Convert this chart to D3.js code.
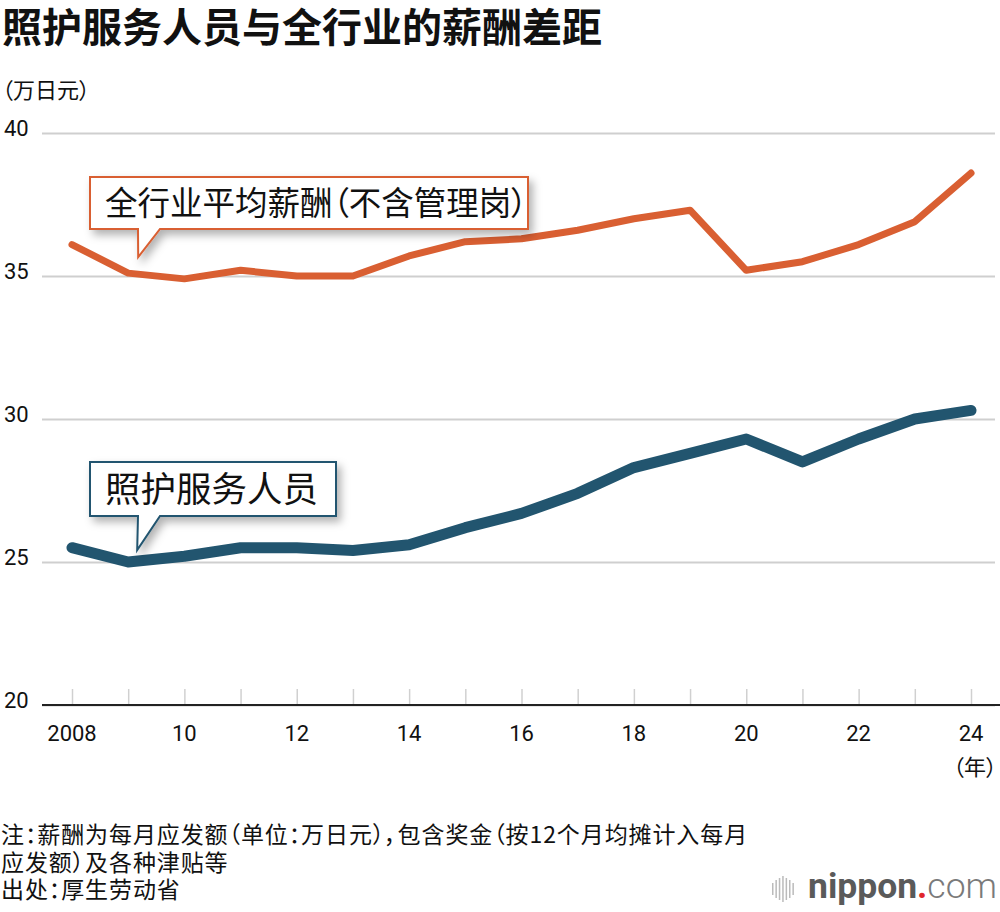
<!DOCTYPE html>
<html>
<head>
<meta charset="utf-8">
<script src="https://cdn.jsdelivr.net/npm/d3@7"></script>
<style>
  body { margin: 0; background: #fff; }
  svg { display: block; font-family: "Noto Sans CJK SC", "Noto Sans", sans-serif; }
  .cjk { font-feature-settings: "palt" 1; }
  .num { font-family: "Roboto", "Liberation Sans", sans-serif; }
</style>
</head>
<body>
<div id="chart"></div>
<script>
// data (万日元)
const years = [2008, 2009, 2010, 2011, 2012, 2013, 2014, 2015, 2016, 2017, 2018, 2019, 2020, 2021, 2022, 2023, 2024];
const allIndustry = [36.1, 35.1, 34.9, 35.2, 35.0, 35.0, 35.7, 36.2, 36.3, 36.6, 37.0, 37.3, 35.2, 35.5, 36.1, 36.9, 38.6];
const careWorkers = [25.5, 25.0, 25.2, 25.5, 25.5, 25.4, 25.6, 26.2, 26.7, 27.4, 28.3, 28.8, 29.3, 28.5, 29.3, 30.0, 30.3];
const yTicks = [20, 25, 30, 35, 40];
const xTickLabels = ["2008", "10", "12", "14", "16", "18", "20", "22", "24"];
const notes = [
  "注：薪酬为每月应发额（单位：万日元），包含奖金（按12个月均摊计入每月",
  "应发额）及各种津贴等",
  "出处：厚生劳动省"
];

const width = 1000, height = 912;
const orange = "#d95f32", blue = "#22556f";

const svg = d3.select("#chart").append("svg")
    .attr("width", width)
    .attr("height", height);

// shadow for the callouts
const defs = svg.append("defs");
const f = defs.append("filter").attr("id", "shadow")
    .attr("x", "-10%").attr("y", "-20%").attr("width", "130%").attr("height", "160%");
f.append("feDropShadow").attr("dx", 4).attr("dy", 5).attr("stdDeviation", 4)
    .attr("flood-color", "#000").attr("flood-opacity", 0.3);

const x = d3.scaleLinear().domain([2008, 2024]).range([72, 971]);
const y = d3.scaleLinear().domain([20, 40]).range([705, 133]);

// title
svg.append("text").attr("class", "cjk").attr("x", 2).attr("y", 42)
    .attr("font-size", 40).attr("font-weight", 700).attr("fill", "#111")
    .text("照护服务人员与全行业的薪酬差距");

svg.append("text").attr("class", "cjk").attr("x", 2).attr("y", 98)
    .attr("font-size", 22).attr("fill", "#111")
    .text("（万日元）");

// y grid + labels
const yAxis = d3.axisLeft(y).tickValues(yTicks).tickSize(-(995 - 42)).tickPadding(0);
const gy = svg.append("g").attr("transform", "translate(42,0)").call(yAxis);
gy.select(".domain").remove();
gy.selectAll(".tick line").attr("stroke", "#cfcfcf").attr("stroke-width", 2);
gy.selectAll(".tick text")
    .attr("class", "num")
    .attr("x", -38).attr("text-anchor", "start").attr("dy", "0.1em")
    .attr("font-size", 22).attr("fill", "#111");

// x axis: small gray ticks pointing up, black baseline
const xAxis = d3.axisBottom(x).tickValues(years).tickSize(-16).tickFormat("");
const gx = svg.append("g").attr("transform", "translate(0,705)").call(xAxis);
gx.select(".domain").remove();
gx.selectAll(".tick line").attr("stroke", "#d0d0d0").attr("stroke-width", 1.5);
svg.append("line").attr("x1", 42).attr("x2", 1000).attr("y1", 705).attr("y2", 705)
    .attr("stroke", "#222").attr("stroke-width", 2);

svg.append("g").selectAll("text")
    .data(years.filter((d, i) => i % 2 === 0))
    .join("text")
    .attr("class", "num")
    .attr("x", d => x(d)).attr("y", 741)
    .attr("text-anchor", "middle").attr("font-size", 22).attr("fill", "#111")
    .text((d, i) => xTickLabels[i]);

svg.append("text").attr("class", "cjk").attr("x", 997).attr("y", 775)
    .attr("text-anchor", "end").attr("font-size", 22).attr("fill", "#111")
    .text("（年）");

// lines
const line = d3.line().x((d, i) => x(years[i])).y(d => y(d));

svg.append("path").datum(allIndustry)
    .attr("fill", "none").attr("stroke", orange).attr("stroke-width", 7)
    .attr("stroke-linejoin", "round").attr("stroke-linecap", "round")
    .attr("d", line);

svg.append("path").datum(careWorkers)
    .attr("fill", "none").attr("stroke", blue).attr("stroke-width", 11)
    .attr("stroke-linejoin", "round").attr("stroke-linecap", "round")
    .attr("d", line);

// callouts
function callout(label, color, fs, x0, y0, w, h, tipX, tipY) {
  const tailL = 138 - 90, tailW = 22;
  const p = d3.path();
  p.moveTo(x0, y0);
  p.lineTo(x0 + w, y0);
  p.lineTo(x0 + w, y0 + h);
  p.lineTo(x0 + tailL + tailW, y0 + h);
  p.lineTo(tipX, tipY);
  p.lineTo(x0 + tailL, y0 + h);
  p.lineTo(x0, y0 + h);
  p.closePath();
  svg.append("path").attr("d", p.toString())
      .attr("fill", "#fff").attr("stroke", color).attr("stroke-width", 2)
      .attr("filter", "url(#shadow)");
  svg.append("text").attr("class", "cjk").attr("x", x0 + 15).attr("y", y0 + h / 2)
      .attr("dy", "0.36em")
      .attr("font-size", fs).attr("fill", "#111")
      .text(label);
}

callout("全行业平均薪酬（不含管理岗）", orange, 32.5, 90, 177, 438, 52, x(2009) + 10, y(allIndustry[1]) - 16);
callout("照护服务人员", blue, 35.5, 90, 462, 246, 54, x(2009) + 9, y(careWorkers[1]) - 12);

// notes
svg.append("g").selectAll("text")
    .data(notes)
    .join("text")
    .attr("class", "cjk")
    .attr("x", 1).attr("y", (d, i) => 843 + i * 27.5)
    .attr("font-size", 23).attr("letter-spacing", 0.9).attr("fill", "#111")
    .text(d => d);

// nippon.com mark
const logo = svg.append("g").attr("transform", "translate(772,898)");
const bars = [12, 18, 22, 26, 22, 18, 12];
logo.selectAll("rect").data(bars).join("rect")
    .attr("x", (d, i) => i * 3.4).attr("y", d => -9 - d / 2)
    .attr("width", 1.5).attr("height", d => d)
    .attr("fill", "#bbb");
const lt = logo.append("text").attr("x", 36).attr("y", 0)
    .attr("font-family", "Roboto, sans-serif").attr("font-size", 35)
    .attr("textLength", 189).attr("lengthAdjust", "spacingAndGlyphs");
lt.append("tspan").attr("fill", "#5a5a5a").attr("font-weight", 700).text("nippon");
lt.append("tspan").attr("fill", "#e0262c").attr("font-weight", 700).text(".");
lt.append("tspan").attr("fill", "#7a7a7a").attr("font-weight", 300).text("com");
</script>
</body>
</html>
